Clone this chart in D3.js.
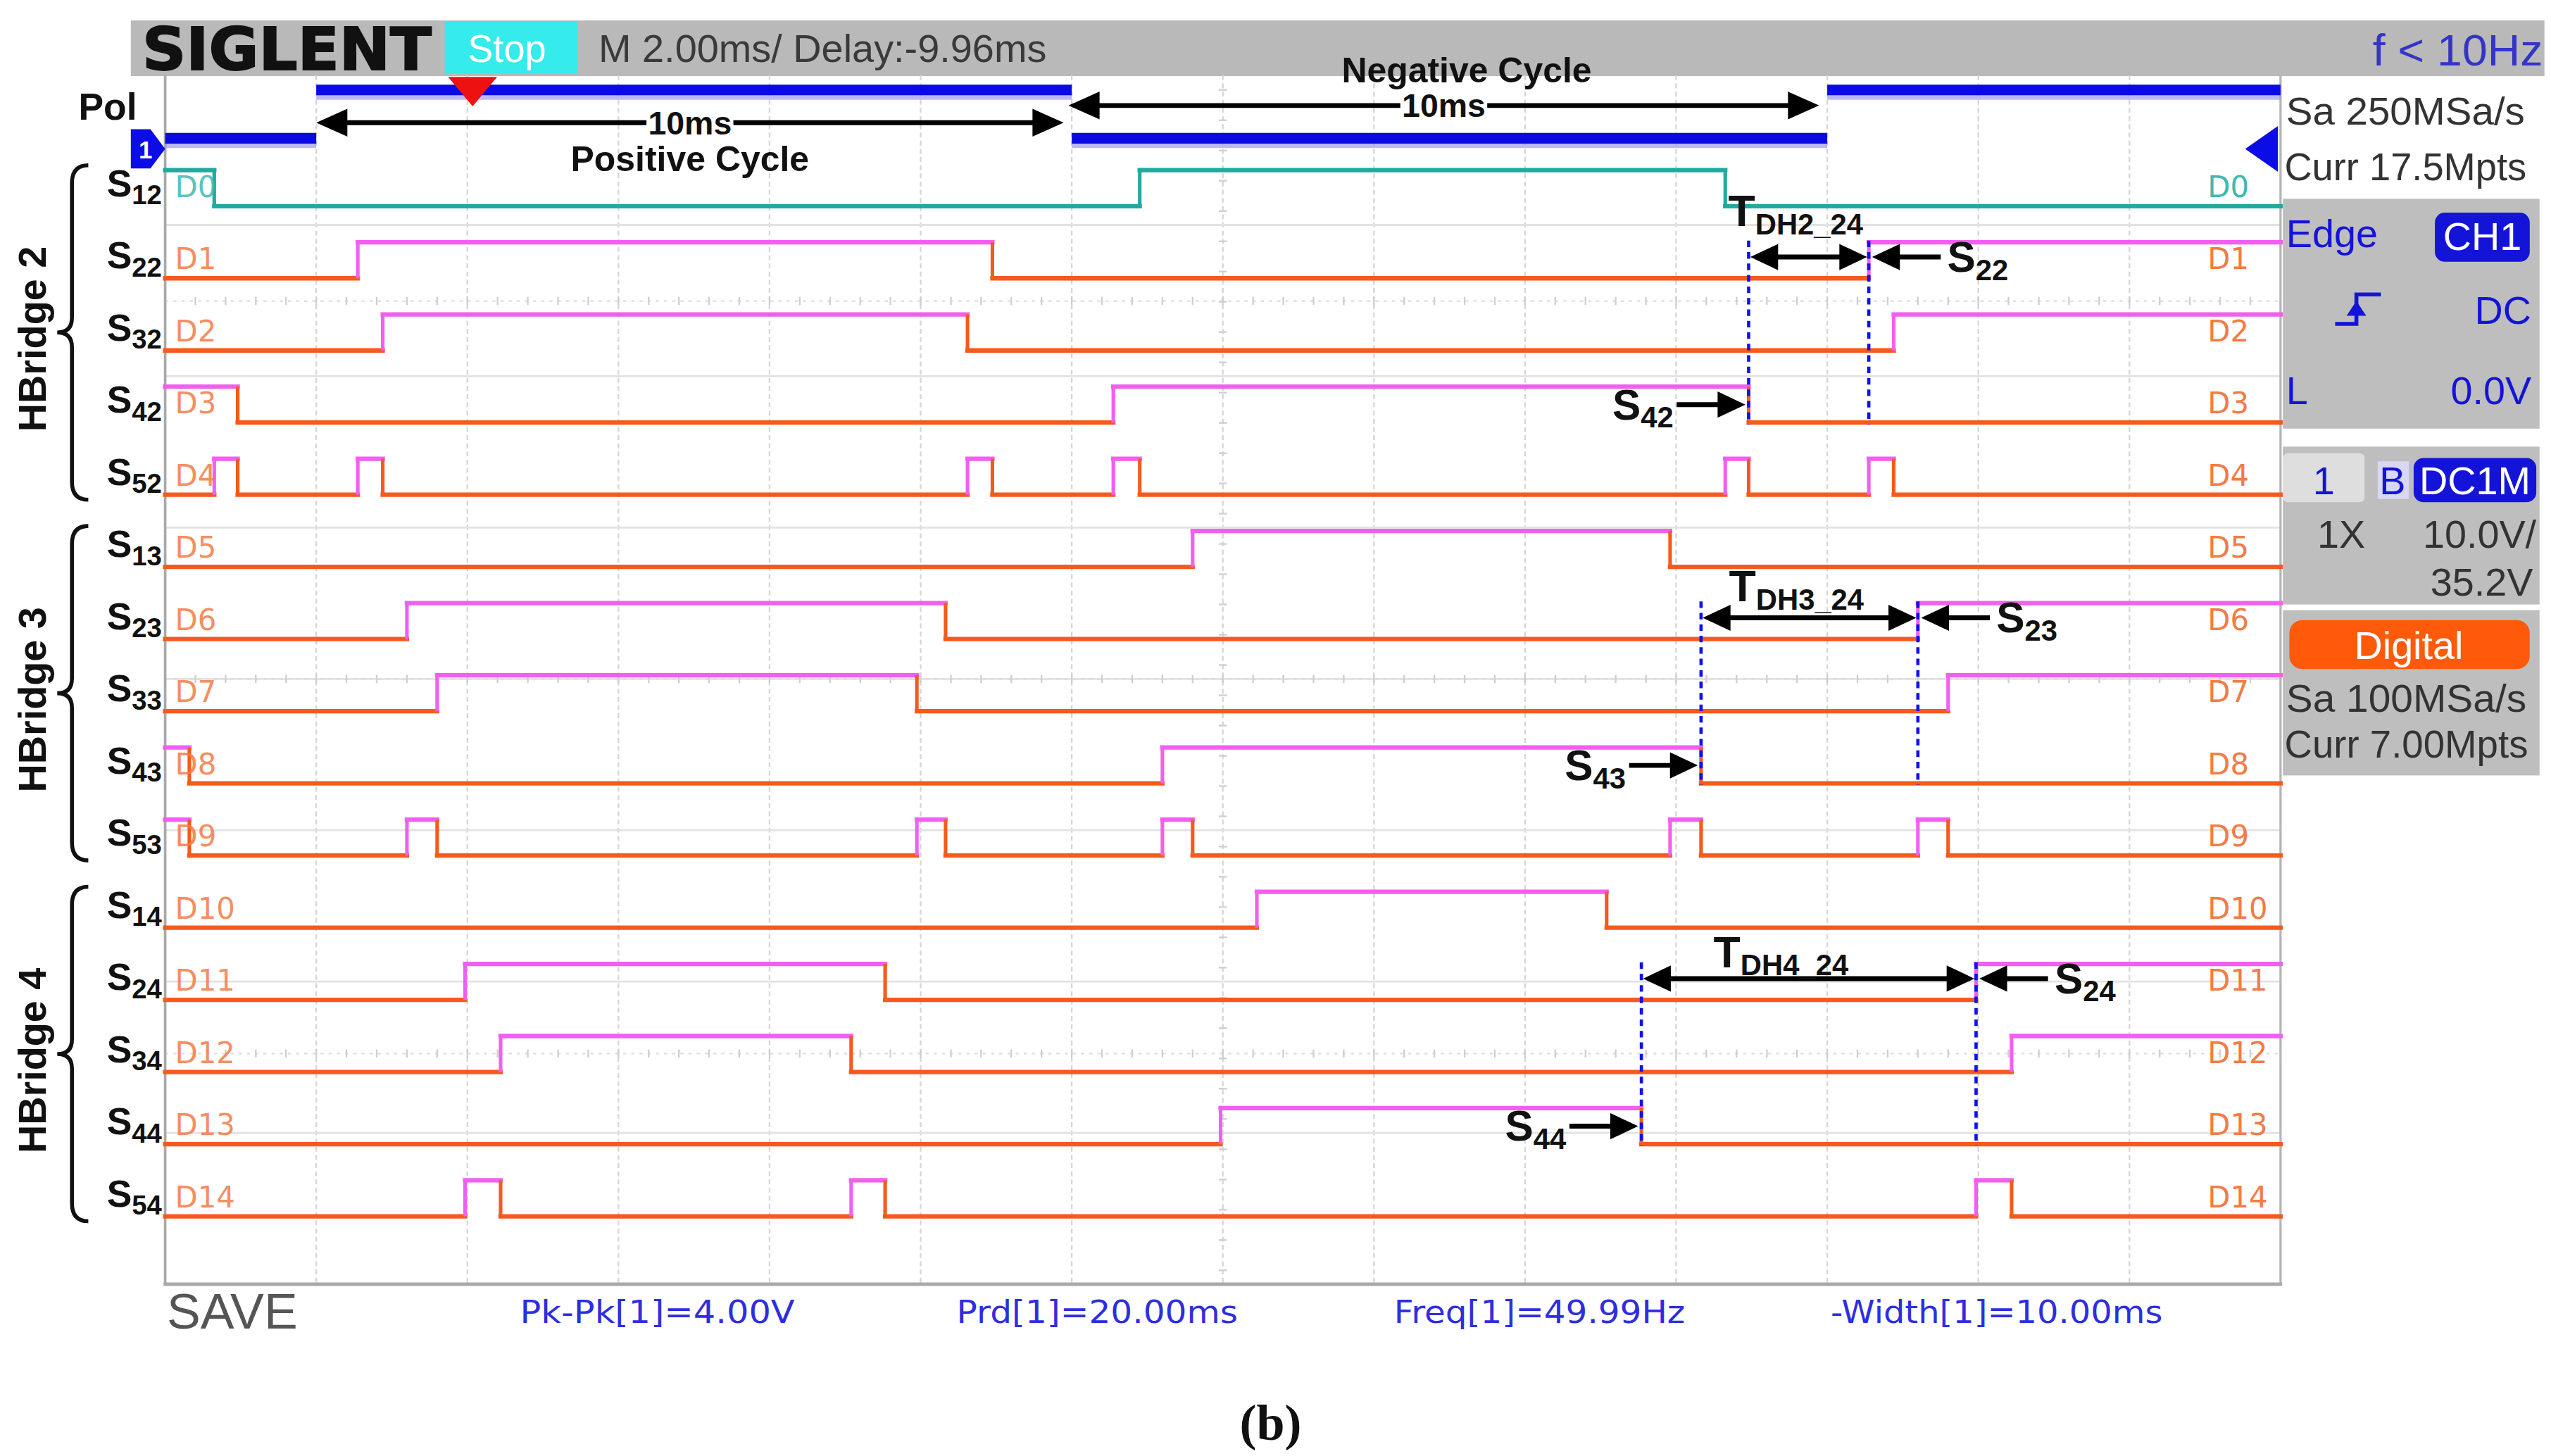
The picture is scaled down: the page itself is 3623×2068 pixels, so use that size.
<!DOCTYPE html>
<html>
<head>
<meta charset="utf-8">
<script src="https://cdn.jsdelivr.net/npm/d3@7"></script>
<style>
  html, body { margin: 0; padding: 0; background: #fff; }
  svg { display: block; }
</style>
</head>
<body>
<div id="scope"></div>
<script>
// Page size and the drawing units used below (units of the source picture)
var svgWidth = 3623;
var svgHeight = 2068;
var viewW = 1560;
var viewH = 890;

// ---- data ----
// time on screen in ms (14 divisions of 2 ms)
var timeDomain = [0, 28];
var gridTimes = d3.range(2, 28, 2);
var channelNames = ["D0", "D1", "D2", "D3", "D4", "D5", "D6", "D7", "D8", "D9", "D10", "D11", "D12", "D13", "D14"];
var switchSubs = ["12", "22", "32", "42", "52", "13", "23", "33", "43", "53", "14", "24", "34", "44", "54"];
var startLevels = [1, 0, 0, 1, 0, 0, 0, 0, 1, 1, 0, 0, 0, 0, 0];
// times (ms) where each channel toggles
var edgeTimes = [
  [0.65, 12.9, 20.65],
  [2.55, 10.95, 22.55],
  [2.88, 10.62, 22.88],
  [0.96, 12.55, 20.96],
  [0.65, 0.96, 2.55, 2.88, 10.62, 10.95, 12.55, 12.9, 20.65, 20.96, 22.55, 22.88],
  [13.6, 19.92],
  [3.2, 10.33, 23.2],
  [3.6, 9.95, 23.6],
  [0.32, 13.2, 20.33],
  [0.32, 3.2, 3.6, 9.95, 10.33, 13.2, 13.6, 19.92, 20.33, 23.2, 23.6],
  [14.45, 19.08],
  [3.97, 9.53, 23.97],
  [4.44, 9.08, 24.44],
  [13.97, 19.54],
  [3.97, 4.44, 9.08, 9.53, 23.97, 24.44]
];
var polStart = 0;
var polEdges = [2, 12, 22];
var bridgeNames = ["HBridge 2", "HBridge 3", "HBridge 4"];
var bridgeRows = [[0, 4], [5, 9], [10, 14]];
var cycleLabels = ["Positive Cycle", "Negative Cycle"];
var cycleSpans = [[2, 12], [12, 22]];
var cycleText = "10ms";
var deadNames = ["DH2_24", "DH3_24", "DH4_24"];
var deadOff = [[3, 2], [8, 2], [13, 1]];   // [channel, edge] S4x turning off
var deadOn = [[1, 2], [6, 2], [11, 2]];    // [channel, edge] S2x turning on
var measureLabels = ["Pk-Pk[1]=4.00V", "Prd[1]=20.00ms", "Freq[1]=49.99Hz", "-Width[1]=10.00ms"];

// colours
var orange = "#f55a1c";
var pink = "#f25ff0";
var teal = "#21a99f";
var uiBlue = "#1414d8";
var panelGray = "#bebebe";

var svg = d3.select("#scope")
  .append("svg")
  .attr("width", svgWidth)
  .attr("height", svgHeight)
  .attr("viewBox", "0 0 " + viewW + " " + viewH)
  .attr("preserveAspectRatio", "none")
  .style("font-family", "'Liberation Sans', Arial, sans-serif");

// scales
var x = d3.scaleLinear().domain(timeDomain).range([101, 1394.6]);
var rowY = d3.scaleLinear().domain([0, 14]).range([126, 743.5]);
var levelY = d3.scaleLinear().domain([0, 1]).range([0, -22]);
var polY = d3.scaleLinear().domain([0, 1]).range([84.5, 55]);

var plotTop = 46, plotBottom = 785;

// ---- header bar ----
svg.append("rect").attr("x", 80).attr("y", 12.5).attr("width", 1476).attr("height", 34).attr("fill", "#b9b9b9");
svg.append("text").attr("x", 87).attr("y", 42.5)
  .attr("textLength", 177).attr("lengthAdjust", "spacingAndGlyphs")
  .style("font-family", "'DejaVu Sans'").style("font-weight", "bold").style("font-size", "36px")
  .attr("fill", "#111").attr("stroke", "#111").attr("stroke-width", 0.8).text("SIGLENT");
svg.append("rect").attr("x", 272).attr("y", 13).attr("width", 81).attr("height", 32).attr("fill", "#35ebeb");
svg.append("text").attr("x", 286).attr("y", 38).attr("textLength", 48).attr("lengthAdjust", "spacingAndGlyphs")
  .style("font-size", "24px").attr("fill", "#ffffff").text("Stop");
svg.append("text").attr("x", 366).attr("y", 38).attr("textLength", 274).attr("lengthAdjust", "spacingAndGlyphs")
  .style("font-size", "24px").attr("fill", "#3a3a3a").text("M 2.00ms/ Delay:-9.96ms");
svg.append("text").attr("x", 1451).attr("y", 40).attr("textLength", 104).attr("lengthAdjust", "spacingAndGlyphs")
  .style("font-size", "27px").attr("fill", "#3434c8").text("f < 10Hz");

// ---- grid ----
var grid = svg.append("g");
grid.selectAll("line.v").data(gridTimes).enter().append("line")
  .attr("x1", d => x(d)).attr("x2", d => x(d))
  .attr("y1", plotTop).attr("y2", plotBottom)
  .attr("stroke", "#d6d6d6").attr("stroke-width", 1).attr("stroke-dasharray", "3,2");
var hGrid = d3.range(1, 8).map(k => 45 + k * 92.5);
grid.selectAll("line.h").data(hGrid).enter().append("line")
  .attr("x1", x(0)).attr("x2", x(28))
  .attr("y1", d => d).attr("y2", d => d)
  .attr("stroke", "#e2e2e2").attr("stroke-width", 1.2);
var tickRows = [184, 415, 644];
var tickTimes = d3.range(0, 28.01, 0.4);
tickRows.forEach(function(yy) {
  grid.append("line").attr("x1", x(0)).attr("x2", x(28)).attr("y1", yy).attr("y2", yy)
    .attr("stroke", "#dddddd").attr("stroke-width", 1).attr("stroke-dasharray", "2,3");
  grid.selectAll(null).data(tickTimes).enter().append("line")
    .attr("x1", d => x(d)).attr("x2", d => x(d))
    .attr("y1", yy - 2.5).attr("y2", yy + 2.5)
    .attr("stroke", "#cfcfcf").attr("stroke-width", 1);
});
grid.selectAll(null).data(d3.range(plotTop + 9, plotBottom, 18.5)).enter().append("line")
  .attr("x1", x(14) - 2.5).attr("x2", x(14) + 2.5)
  .attr("y1", d => d).attr("y2", d => d)
  .attr("stroke", "#cfcfcf").attr("stroke-width", 1);

// frame
svg.append("line").attr("x1", x(0)).attr("x2", x(0)).attr("y1", plotTop).attr("y2", plotBottom)
  .attr("stroke", "#a9a9a9").attr("stroke-width", 1.6);
svg.append("line").attr("x1", x(28)).attr("x2", x(28)).attr("y1", plotTop).attr("y2", plotBottom)
  .attr("stroke", "#b5b5b5").attr("stroke-width", 1.4);
svg.append("line").attr("x1", x(0) - 1).attr("x2", x(28) + 1).attr("y1", plotBottom).attr("y2", plotBottom)
  .attr("stroke", "#a9a9a9").attr("stroke-width", 2.2);

// ---- Pol (channel 1) ----
function segmentsFor(start, edges) {
  var bounds = [timeDomain[0]].concat(edges, [timeDomain[1]]);
  var segs = [];
  for (var k = 0; k < bounds.length - 1; k++) {
    segs.push({ t0: bounds[k], t1: bounds[k + 1], level: (start + k) % 2 });
  }
  return segs;
}
var polSegs = segmentsFor(polStart, polEdges);
var polG = svg.append("g");
polG.selectAll("line.glow").data(polSegs).enter().append("line")
  .attr("x1", d => x(d.t0)).attr("x2", d => x(d.t1))
  .attr("y1", d => polY(d.level) + 4).attr("y2", d => polY(d.level) + 4)
  .attr("stroke", "#8c8cf6").attr("stroke-width", 4).attr("opacity", 0.6);
polG.selectAll("line.main").data(polSegs).enter().append("line")
  .attr("x1", d => x(d.t0)).attr("x2", d => x(d.t1))
  .attr("y1", d => polY(d.level)).attr("y2", d => polY(d.level))
  .attr("stroke", "#0a0ae2").attr("stroke-width", 6.5);

// channel markers
svg.append("path").attr("d", "M80,79L92,79L101,91L92,103L80,103Z").attr("fill", "#0c0ce6");
svg.append("text").attr("x", 89).attr("y", 97).attr("text-anchor", "middle")
  .style("font-size", "15px").style("font-weight", "bold").attr("fill", "#fff").text("1");
svg.append("path").attr("d", "M1373,91L1393,77L1393,105Z").attr("fill", "#0c0ce6");
// trigger position
svg.append("path").attr("d", "M274,47L304,47L289,65Z").attr("fill", "#ee1111");

// ---- digital channels ----
var chG = svg.append("g");
channelNames.forEach(function(name, i) {
  var segs = segmentsFor(startLevels[i], edgeTimes[i]);
  var edges = edgeTimes[i].map(function(t, k) {
    return { t: t, rising: (startLevels[i] + k + 1) % 2 === 1 };
  });
  var g = chG.append("g");
  g.selectAll("line.h").data(segs).enter().append("line")
    .attr("x1", d => x(d.t0)).attr("x2", d => x(d.t1))
    .attr("y1", d => rowY(i) + levelY(d.level)).attr("y2", d => rowY(i) + levelY(d.level))
    .attr("stroke", d => i === 0 ? teal : (d.level ? pink : orange))
    .attr("stroke-width", 2.7).attr("stroke-linecap", "square");
  g.selectAll("line.e").data(edges).enter().append("line")
    .attr("x1", d => x(d.t)).attr("x2", d => x(d.t))
    .attr("y1", rowY(i)).attr("y2", rowY(i) + levelY(1))
    .attr("stroke", d => i === 0 ? teal : (d.rising ? pink : orange))
    .attr("stroke-width", 2.2);
  var labColor = i === 0 ? "#3cbab2" : "#f47b45";
  g.append("text").attr("x", x(0) + 6).attr("y", rowY(i) - 5.5)
    .style("font-family", "'DejaVu Sans'").style("font-size", "18px")
    .attr("fill", labColor).attr("opacity", 0.85).text(name);
  g.append("text").attr("x", 1350).attr("y", rowY(i) - 5.5)
    .style("font-family", "'DejaVu Sans'").style("font-size", "18px")
    .attr("fill", labColor).text(name);
  // switch label
  var s = g.append("text").attr("x", 99).attr("y", rowY(i) - 6)
    .attr("text-anchor", "end").style("font-weight", "bold").attr("fill", "#111");
  s.append("tspan").style("font-size", "23px").text("S");
  s.append("tspan").attr("dy", 5).style("font-size", "16.5px").text(switchSubs[i]);
});

// ---- bridge braces ----
function bracePath(top, bot) {
  var mid = (top + bot) / 2, xv = 44, xe = 54, xt = 35;
  return "M" + xe + "," + top + " Q" + xv + "," + top + " " + xv + "," + (top + 11) +
    " L" + xv + "," + (mid - 9) + " Q" + xv + "," + mid + " " + xt + "," + mid +
    " Q" + xv + "," + mid + " " + xv + "," + (mid + 9) +
    " L" + xv + "," + (bot - 11) + " Q" + xv + "," + bot + " " + xe + "," + bot;
}
bridgeNames.forEach(function(name, b) {
  var top = rowY(bridgeRows[b][0]) + levelY(1) - 3;
  var bot = rowY(bridgeRows[b][1]) + 3;
  svg.append("path").attr("d", bracePath(top, bot))
    .attr("fill", "none").attr("stroke", "#111").attr("stroke-width", 2.4);
  var mid = (top + bot) / 2 + 4;
  svg.append("text").attr("transform", "translate(28," + mid + ") rotate(-90)")
    .attr("text-anchor", "middle").style("font-size", "24px").style("font-weight", "bold")
    .attr("fill", "#111").text(name);
});

// ---- arrows & annotations ----
var ann = svg.append("g");
function arrowHead(tipX, y, dir, len, half) {
  ann.append("path")
    .attr("d", "M" + tipX + "," + y + "L" + (tipX - dir * len) + "," + (y - half) +
      "L" + (tipX - dir * len) + "," + (y + half) + "Z")
    .attr("fill", "#000");
}
function hLine(x1, x2, y, w) {
  ann.append("line").attr("x1", x1).attr("x2", x2).attr("y1", y).attr("y2", y)
    .attr("stroke", "#000").attr("stroke-width", w);
}
function switchLabel(xx, y, sub, anchor, big, small) {
  var t = ann.append("text").attr("x", xx).attr("y", y).attr("text-anchor", anchor)
    .style("font-weight", "bold").attr("fill", "#111");
  t.append("tspan").style("font-size", big + "px").text("S");
  t.append("tspan").attr("dy", 5).style("font-size", small + "px").text(sub);
}

// cycle arrows
var cycleY = [75, 64.5];
var cycleTextY = [104.5, 50.5];
var cycleTextDx = [0, 14];
cycleSpans.forEach(function(span, c) {
  var x1 = x(span[0]) + (c === 0 ? 0 : -2);
  var x2 = x(span[1]) - 5;
  var y = cycleY[c];
  hLine(x1 + 8, x2 - 8, y, 3);
  arrowHead(x1, y, -1, 19, 8.5);
  arrowHead(x2, y, 1, 19, 8.5);
  var cx = (x1 + x2) / 2;
  var lab = ann.append("text").attr("x", cx).attr("y", y + 7).attr("text-anchor", "middle")
    .style("font-size", "20px").style("font-weight", "bold").attr("fill", "#111").text(cycleText);
  var w = lab.node().getComputedTextLength();
  ann.insert("rect", function() { return lab.node(); })
    .attr("x", cx - w / 2 - 1).attr("y", y - 3).attr("width", w + 2).attr("height", 6).attr("fill", "#fff");
  ann.append("text").attr("x", cx + cycleTextDx[c]).attr("y", cycleTextY[c]).attr("text-anchor", "middle")
    .style("font-size", "21.5px").style("font-weight", "bold").attr("fill", "#111").text(cycleLabels[c]);
});
svg.append("text").attr("x", 48).attr("y", 73).style("font-size", "23px").style("font-weight", "bold")
  .attr("fill", "#111").text("Pol");

// dead-time markers
var deadTextDy = [-14, -5, -2];
var deadTextDx = [-8, -8, -17];
deadNames.forEach(function(name, k) {
  var offRow = deadOff[k][0], onRow = deadOn[k][0];
  var xOff = x(edgeTimes[offRow][deadOff[k][1]]);
  var xOn = x(edgeTimes[onRow][deadOn[k][1]]);
  var yTop = rowY(onRow) + levelY(1) - 1;
  var yBot = rowY(offRow) + 1;
  [xOff, xOn].forEach(function(xx) {
    ann.append("line").attr("x1", xx).attr("x2", xx).attr("y1", yTop).attr("y2", yBot)
      .attr("stroke", "#1010ee").attr("stroke-width", 2).attr("stroke-dasharray", "4,3");
  });
  var ay = rowY(onRow) - 13;
  hLine(xOff + 8, xOn - 8, ay, 3);
  arrowHead(xOff + 1, ay, -1, 17, 8);
  arrowHead(xOn - 1, ay, 1, 17, 8);
  // T label
  var t = ann.append("text").attr("x", (xOff + xOn) / 2 + deadTextDx[k]).attr("y", ay + deadTextDy[k] - 5)
    .attr("text-anchor", "middle").style("font-weight", "bold").attr("fill", "#111");
  t.append("tspan").style("font-size", "27px").text("T");
  t.append("tspan").attr("dy", 5).style("font-size", "18px").text(name);
  // S2x arrow (turn-on)
  hLine(xOn + 10, xOn + 44, ay, 3);
  arrowHead(xOn + 2, ay, -1, 17, 8);
  switchLabel(xOn + 48, ay + 9, switchSubs[onRow], "start", 26, 18);
  // S4x arrow (turn-off)
  var by = rowY(offRow) - 11;
  hLine(xOff - 44, xOff - 10, by, 3);
  arrowHead(xOff - 2, by, 1, 17, 8);
  switchLabel(xOff - 46, by + 9, switchSubs[offRow], "end", 26, 18);
});

// ---- right panel ----
var panel = svg.append("g").style("font-size", "24px");
panel.append("text").attr("x", 1398).attr("y", 76).attr("textLength", 146).attr("lengthAdjust", "spacingAndGlyphs")
  .attr("fill", "#333").text("Sa 250MSa/s");
panel.append("text").attr("x", 1397).attr("y", 110).attr("textLength", 148).attr("lengthAdjust", "spacingAndGlyphs")
  .attr("fill", "#333").text("Curr 17.5Mpts");
panel.append("rect").attr("x", 1396).attr("y", 121.5).attr("width", 157).attr("height", 140.5).attr("fill", panelGray);
panel.append("text").attr("x", 1398).attr("y", 151).attr("fill", uiBlue).text("Edge");
panel.append("rect").attr("x", 1489).attr("y", 130).attr("width", 58).attr("height", 30).attr("rx", 6).attr("fill", uiBlue);
panel.append("text").attr("x", 1518).attr("y", 153).attr("text-anchor", "middle").attr("fill", "#fff").text("CH1");
panel.append("path").attr("d", "M1428,198L1441,198L1441,180L1456,180")
  .attr("fill", "none").attr("stroke", uiBlue).attr("stroke-width", 2.4);
panel.append("path").attr("d", "M1441,184L1435,193L1447,193Z").attr("fill", uiBlue);
panel.append("text").attr("x", 1548).attr("y", 198).attr("text-anchor", "end").attr("fill", uiBlue).text("DC");
panel.append("text").attr("x", 1398).attr("y", 247).attr("fill", uiBlue).text("L");
panel.append("text").attr("x", 1548).attr("y", 247).attr("text-anchor", "end").attr("fill", uiBlue).text("0.0V");

panel.append("rect").attr("x", 1396).attr("y", 273).attr("width", 157).attr("height", 96.5).attr("fill", panelGray);
panel.append("rect").attr("x", 1396).attr("y", 277).attr("width", 50).attr("height", 30).attr("rx", 3).attr("fill", "#dedede");
panel.append("text").attr("x", 1421).attr("y", 302).attr("text-anchor", "middle").attr("fill", uiBlue).text("1");
panel.append("rect").attr("x", 1454).attr("y", 282).attr("width", 19).attr("height", 23).attr("fill", "#d8d8f4");
panel.append("text").attr("x", 1455).attr("y", 302).attr("fill", uiBlue).text("B");
panel.append("rect").attr("x", 1476).attr("y", 280).attr("width", 75).attr("height", 27).attr("rx", 6).attr("fill", uiBlue);
panel.append("text").attr("x", 1513.5).attr("y", 302).attr("text-anchor", "middle").attr("fill", "#fff").text("DC1M");
panel.append("text").attr("x", 1417).attr("y", 335).attr("fill", "#333").text("1X");
panel.append("text").attr("x", 1551).attr("y", 335).attr("text-anchor", "end").attr("fill", "#333").text("10.0V/");
panel.append("text").attr("x", 1549).attr("y", 364).attr("text-anchor", "end").attr("fill", "#333").text("35.2V");

panel.append("rect").attr("x", 1396).attr("y", 373).attr("width", 157).attr("height", 101).attr("fill", panelGray);
panel.append("rect").attr("x", 1400).attr("y", 379).attr("width", 147).attr("height", 30).attr("rx", 8).attr("fill", "#ff5a0a");
panel.append("text").attr("x", 1473).attr("y", 403).attr("text-anchor", "middle").attr("fill", "#fff").text("Digital");
panel.append("text").attr("x", 1398).attr("y", 435).attr("textLength", 147).attr("lengthAdjust", "spacingAndGlyphs")
  .attr("fill", "#333").text("Sa 100MSa/s");
panel.append("text").attr("x", 1397).attr("y", 463).attr("textLength", 149).attr("lengthAdjust", "spacingAndGlyphs")
  .attr("fill", "#333").text("Curr 7.00Mpts");

// ---- bottom status line ----
svg.append("text").attr("x", 102).attr("y", 812).attr("textLength", 80).attr("lengthAdjust", "spacingAndGlyphs")
  .style("font-size", "30px").attr("fill", "#555").text("SAVE");
var measureX = [318, 585, 852.5, 1119.5];
var measureW = [168, 172, 178, 203];
svg.selectAll("text.meas").data(measureLabels).enter().append("text")
  .attr("class", "meas")
  .attr("x", (d, i) => measureX[i]).attr("y", 808.5)
  .attr("textLength", (d, i) => measureW[i]).attr("lengthAdjust", "spacingAndGlyphs")
  .style("font-family", "'DejaVu Sans'").style("font-size", "19px")
  .attr("fill", "#2e2ee0").text(d => d);

svg.append("text").attr("x", 777).attr("y", 880).attr("text-anchor", "middle")
  .style("font-family", "'Liberation Serif', serif").style("font-size", "31px").style("font-weight", "bold")
  .attr("fill", "#111").text("(b)");
</script>
</body>
</html>
